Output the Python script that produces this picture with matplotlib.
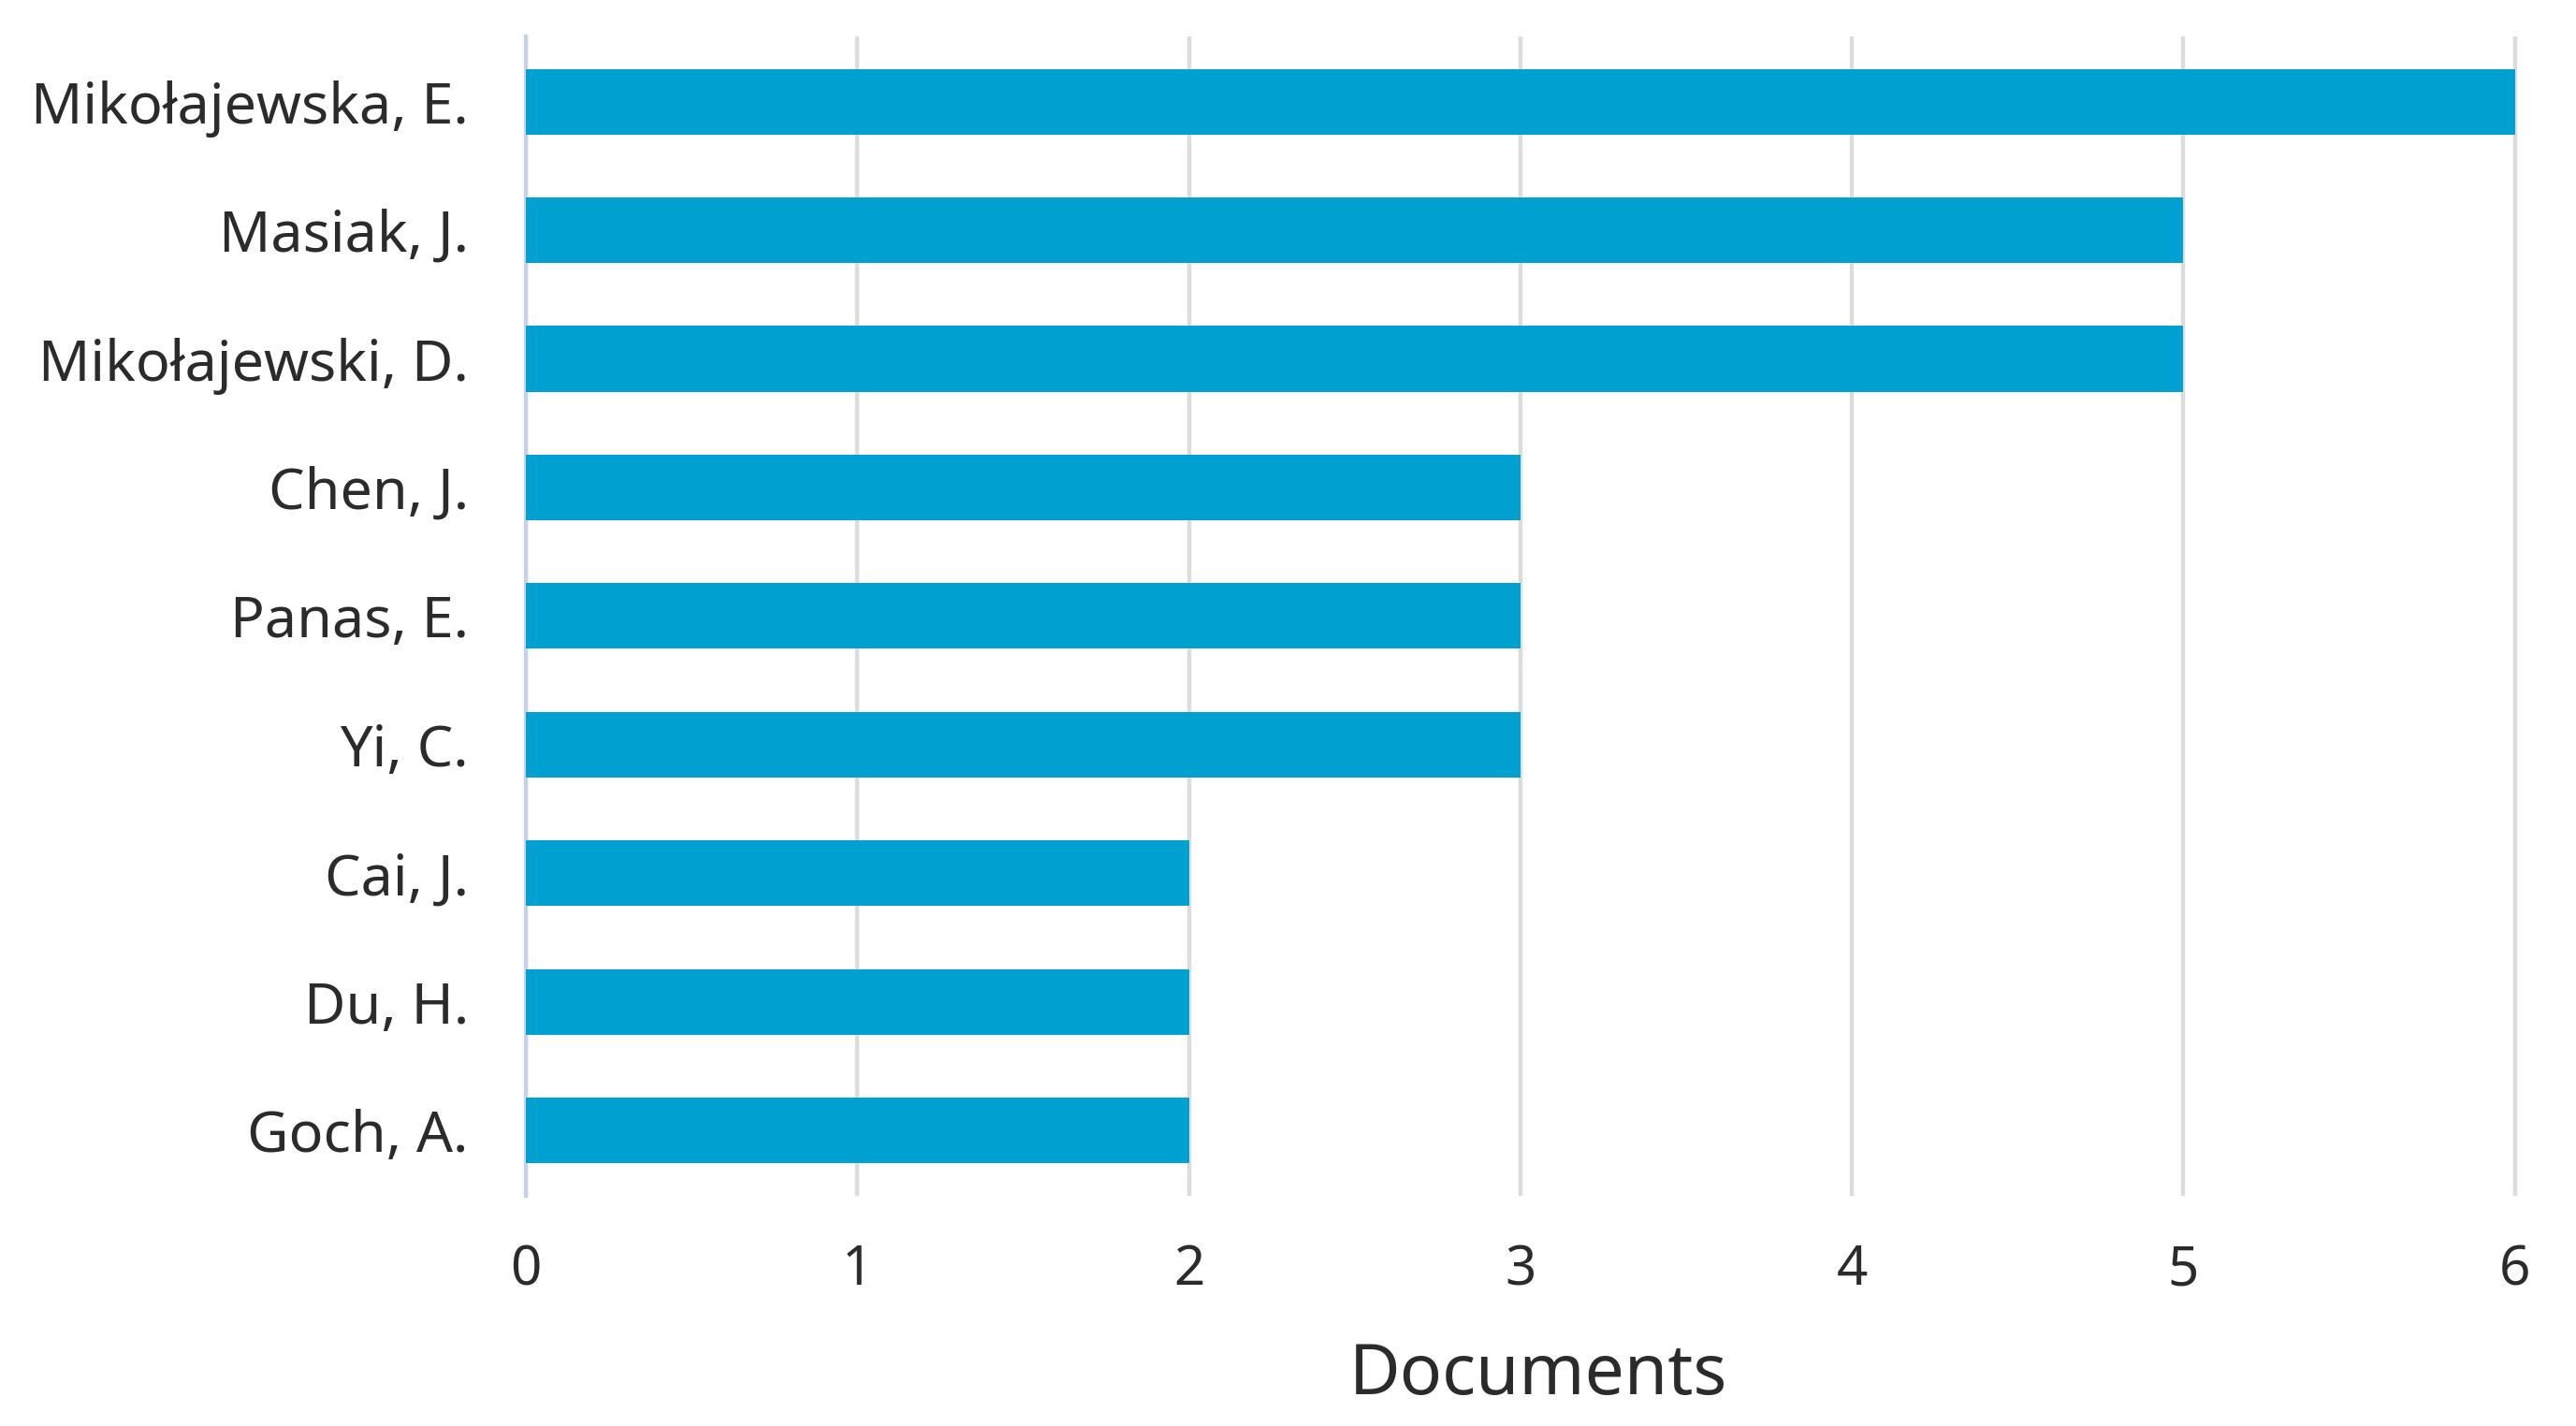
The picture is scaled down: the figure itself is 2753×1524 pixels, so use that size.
import matplotlib
matplotlib.use("Agg")
import matplotlib.pyplot as plt

authors = ["Mikołajewska, E.", "Masiak, J.", "Mikołajewski, D.", "Chen, J.",
           "Panas, E.", "Yi, C.", "Cai, J.", "Du, H.", "Goch, A."]
documents = [6, 5, 5, 3, 3, 3, 2, 2, 2]
xticks = [0, 1, 2, 3, 4, 5, 6]

plt.rcParams['font.family'] = ['Noto Sans', 'DejaVu Sans']
text_color = '#2b2b2b'

fig = plt.figure(figsize=(13.765, 7.62), dpi=200)
ax = fig.add_axes([0.2041, 0.1613, 0.7735, 0.8134])

pos = list(range(len(authors)))
ax.barh(pos, documents, height=0.51, color='#00A0D0', zorder=3)

ax.set_ylim(len(authors) - 1 + 0.51, -0.51)
ax.set_xlim(0, 6.01)
ax.set_yticks(pos)
ax.set_yticklabels(authors, fontsize=22, color=text_color)
ax.set_xticks(xticks)
ax.set_xticklabels([str(t) for t in xticks], fontsize=21, color=text_color)
ax.tick_params(axis='both', length=0)
ax.tick_params(axis='y', pad=22)
ax.tick_params(axis='x', pad=18)

ax.grid(axis='x', color='#dcdcdc', linewidth=1.6, zorder=0)
ax.grid(axis='y', visible=False)
for side in ['top', 'right', 'bottom']:
    ax.spines[side].set_visible(False)
ax.spines['left'].set_color('#c5d3e8')
ax.spines['left'].set_linewidth(1.6)

ax.set_xlabel("Documents", fontsize=27, color=text_color)
ax.xaxis.set_label_coords(0.508, -0.125)

fig.savefig("out.png", dpi=200, facecolor='white')
